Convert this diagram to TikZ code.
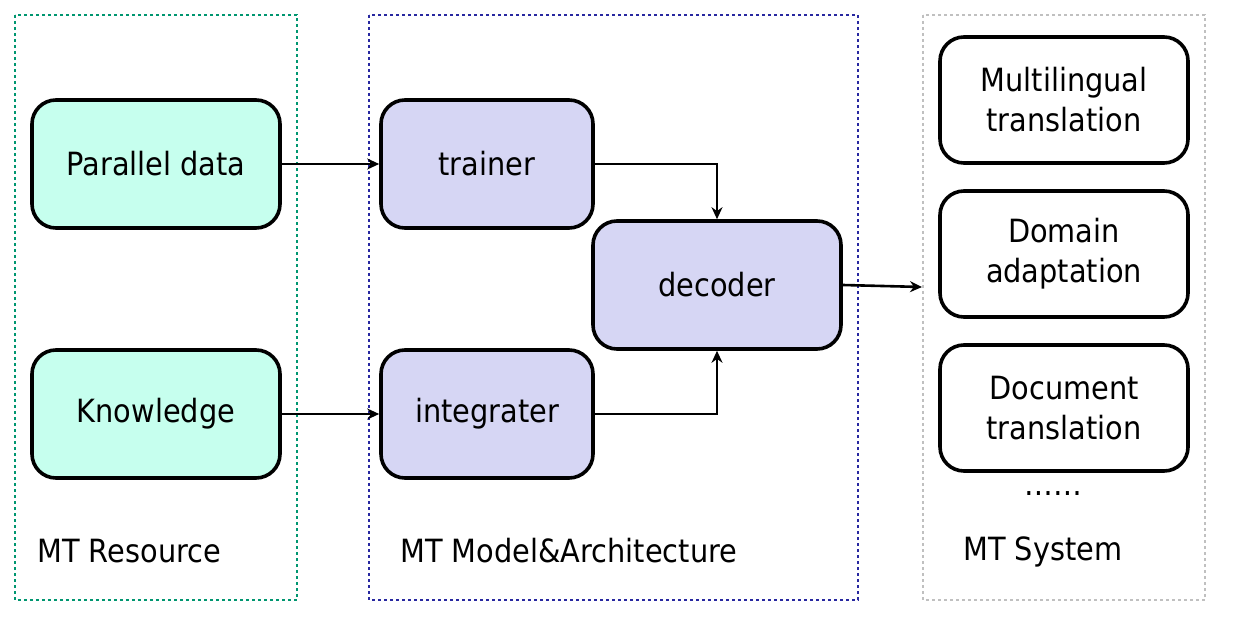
\documentclass[tikz,border=0pt]{standalone}
\usepackage{fontspec}
\setmainfont{DejaVu Sans}[FakeStretch=0.9]
\usetikzlibrary{arrows.meta}
\definecolor{resgreen}{RGB}{0,150,112}
\definecolor{modblue}{RGB}{40,40,160}
\definecolor{sysgray}{RGB}{192,192,192}
\definecolor{mintfill}{RGB}{198,255,238}
\definecolor{lavfill}{RGB}{214,214,244}
\tikzset{
  frame/.style={line width=1.4pt, dash pattern=on 1.4pt off 1.6pt},
  blockbox/.style={draw, line width=1.8pt, rounded corners=12pt,
    minimum width=124pt, minimum height=64pt, align=center,
    font=\fontsize{16}{20}\selectfont},
  label/.style={anchor=west, inner sep=0pt, font=\fontsize{16}{20}\selectfont},
  flow/.style={line width=1.3pt, -{Stealth[length=6pt,width=5.5pt]}}
}
\begin{document}
\begin{tikzpicture}[x=0.5pt,y=-0.5pt]
      \useasboundingbox (0,0) rectangle (1241,625);
      % the three dotted frames
      \draw[frame, resgreen] (15,15) rectangle (297,600);
      \draw[frame, modblue] (369,15) rectangle (858,600);
      \draw[frame, sysgray] (923,15) rectangle (1205,600);
      \draw
        (156,164) node[blockbox, fill=mintfill] (parallel){Parallel data}
        (156,414) node[blockbox, fill=mintfill] (knowledge){Knowledge}
        (487,164) node[blockbox, fill=lavfill, minimum width=106pt] (trainer){trainer}
        (487,414) node[blockbox, fill=lavfill, minimum width=106pt] (integrater){integrater}
        (717,285) node[blockbox, fill=lavfill] (decoder){decoder}
        (1064,100) node[blockbox, minimum height=63pt] (multi){Multilingual\\translation}
        (1064,254) node[blockbox, minimum height=63pt] (domain){Domain\\adaptation}
        (1064,408) node[blockbox, minimum height=63pt] (document){Document\\translation}
        (1053,494) node[font=\fontsize{16}{20}\selectfont] (more){\dots\dots}
        (37,551) node[label] (resource){MT Resource}
        (400,551) node[label] (model){MT Model\&Architecture}
        (963,552) node[label] (system){MT System};
      \coordinate (sysin) at (922,287);
      \begin{scope}[flow]
        \draw (parallel) to (trainer);
        \draw (knowledge) to (integrater);
        \draw (trainer.east) -| (decoder.north);
        \draw (integrater.east) -| (decoder.south);
        \draw (decoder.east) to (sysin);
      \end{scope}
    \end{tikzpicture}
\end{document}
